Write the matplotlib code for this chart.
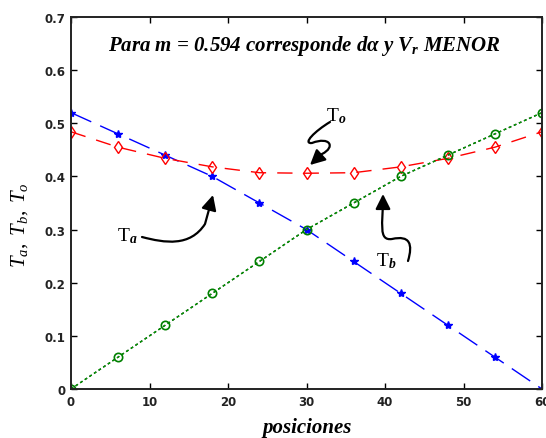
import matplotlib
matplotlib.use("Agg")
import matplotlib.pyplot as plt
from matplotlib.path import Path
from matplotlib.patches import FancyArrowPatch
import numpy as np

plt.rcParams['mathtext.fontset'] = 'custom'
plt.rcParams['mathtext.rm'] = 'Liberation Serif'
plt.rcParams['mathtext.it'] = 'Liberation Serif:italic'
plt.rcParams['mathtext.bf'] = 'Liberation Serif:bold:italic'

pos = [0, 6, 12, 18, 24, 30, 36, 42, 48, 54, 60]
Ta = [0.52, 0.48, 0.44, 0.40, 0.35, 0.30, 0.24, 0.18, 0.12, 0.06, 0.0]
Tb = [0.0, 0.06, 0.12, 0.18, 0.24, 0.30, 0.35, 0.40, 0.44, 0.48, 0.52]
To = [0.484, 0.455, 0.434, 0.418, 0.407, 0.406, 0.407, 0.418, 0.434, 0.455, 0.484]
xticks = [0, 10, 20, 30, 40, 50, 60]
yticks = [0, 0.1, 0.2, 0.3, 0.4, 0.5, 0.6, 0.7]

W, H = 546, 439
fig = plt.figure(figsize=(W/100, H/100), dpi=100)
L, R, T, B = 71, 542, 18, 390
ax = fig.add_axes([L/W, 1-B/H, (R-L)/W, (B-T)/H])

# blue Ta
ax.plot(pos, Ta, color='blue', lw=1.0, dashes=(16, 7), marker='*', ms=6,
        mfc='blue', mec='blue')
# red To
ax.plot(pos, To, color='red', lw=1.0, dashes=(11, 8), marker='d', ms=6,
        mfc='none', mec='red', mew=1.0)
# green Tb: green and black alternating
ax.plot(pos, Tb, color='black', lw=1.0, dashes=(2, 2), dash_capstyle='butt')
ax.plot(pos, Tb, color='#00a000', lw=1.0, dashes=(2, 2), dash_capstyle='butt',
        marker='o', ms=6, mfc='none', mec='green', mew=1.2)

ax.set_xlim(0, 60)
ax.set_ylim(0, 0.7)
ax.set_xticks(xticks)
ax.set_yticks(yticks)
ax.set_xticklabels([str(v) for v in xticks])
ax.set_yticklabels(['0'] + ['%.1f' % v for v in yticks[1:]])
ax.tick_params(direction='in', top=True, right=True, length=4, width=1,
               labelsize=8.5, pad=4)
for lab in ax.get_xticklabels() + ax.get_yticklabels():
    lab.set_fontweight('bold')
    lab.set_color('#222222')
for sp in ax.spines.values():
    sp.set_linewidth(1.4)
    sp.set_color('#222222')

def d(px, py):
    return ((px - L) / (R - L) * 60, (B - py) / (B - T) * 0.7)

ax.text(*d(305, 46), r'Para m = 0.594 corresponde d$\mathbf{\alpha}$ y V$_{\mathbf{r}}$ MENOR',
        fontsize=15, fontweight='bold', fontstyle='italic', family='Liberation Serif',
        ha='center', va='center')

fig.text(307/W, 1-428/H, 'posiciones', fontsize=15, fontweight='bold',
         fontstyle='italic', family='Liberation Serif', ha='center', va='center')
fig.text(20/W, 1-225/H, r'$T_a,\ T_b,\ T_o$', fontsize=15, rotation=90,
         ha='center', va='center')

lab_kw = dict(fontsize=14, family='Liberation Serif', ha='center', va='center')
ax.text(*d(336, 116), r'T$_{\mathbf{o}}$', **lab_kw)
ax.text(*d(127, 236), r'T$_{\mathbf{a}}$', **lab_kw)
ax.text(*d(386, 261), r'T$_{\mathbf{b}}$', **lab_kw)

def curve_arrow(pts, codes):
    verts = [d(*p) for p in pts]
    path = Path(verts, codes)
    a = FancyArrowPatch(path=path, arrowstyle='-|>,head_length=9,head_width=4.5',
                        color='black', lw=1.6, transform=ax.transData)
    ax.add_patch(a)

C4 = Path.CURVE4
M = Path.MOVETO
LT = Path.LINETO
# To arrow: wavy down-left
curve_arrow([(330, 123), (315, 132), (302, 145), (312, 144),
             (330, 137), (336, 148), (322, 155), (310, 166)],
            [M, C4, C4, C4, C4, C4, LT, LT])
# Ta arrow
curve_arrow([(142, 238), (165, 244), (190, 248), (205, 225), (213, 196)],
            [M, C4, C4, C4, LT])
# Tb arrow
curve_arrow([(408, 262), (413, 245), (410, 236), (392, 240),
             (378, 242), (383, 225), (383, 195)],
            [M, C4, C4, C4, C4, C4, LT])

fig.savefig('out.png', dpi=100)
